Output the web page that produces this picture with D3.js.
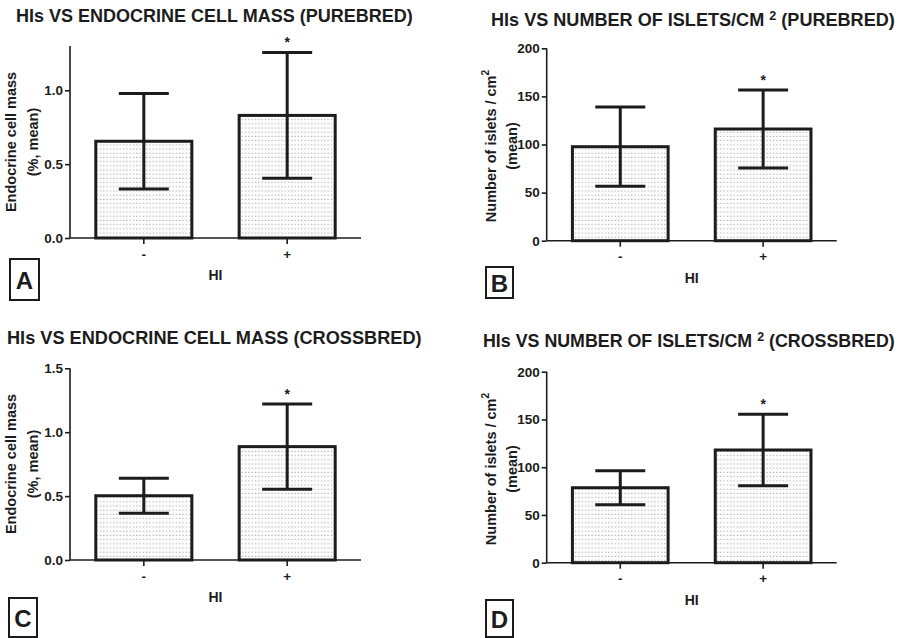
<!DOCTYPE html>
<html>
<head>
<meta charset="utf-8">
<script src="https://cdn.jsdelivr.net/npm/d3@7.9.0/dist/d3.min.js"></script>
<style>
  body { margin: 0; background: #fff; }
  svg { display: block; font-family: "Liberation Sans", Arial, sans-serif; font-weight: bold; }
</style>
</head>
<body>
<svg id="chart" width="904" height="638"></svg>
<script>
// categories on the x axis (HI absent / present)
const categories = ["-", "+"];

// A: endocrine cell mass, purebred
const massPureMean = [0.655, 0.83];
const massPureErr = [0.323, 0.426];
// B: islets per cm2, purebred
const isletsPureMean = [97.7, 116.1];
const isletsPureErr = [41.2, 40.6];
// C: endocrine cell mass, crossbred
const massCrossMean = [0.503, 0.887];
const massCrossErr = [0.137, 0.333];
// D: islets per cm2, crossbred
const isletsCrossMean = [78.5, 118];
const isletsCrossErr = [17.8, 37.4];

const massTicks = [0, 0.5, 1.0];
const massTicksC = [0, 0.5, 1.0, 1.5];
const isletTicks = [0, 50, 100, 150, 200];

const svg = d3.select("#chart");
const ink = "#1c1c1c";

// dotted fill used inside every bar
const defs = svg.append("defs");
const pat = defs.append("pattern")
    .attr("id", "dots")
    .attr("patternUnits", "userSpaceOnUse")
    .attr("width", 3.3)
    .attr("height", 4.2);
pat.append("rect").attr("width", 3.3).attr("height", 4.2).attr("fill", "#fcfcfc");
pat.append("rect").attr("x", 1).attr("y", 1.5).attr("width", 1).attr("height", 1).attr("fill", "#9a9a9a");

// layout of each panel
const panels = [
    {
        title: ["HIs VS ENDOCRINE CELL MASS (PUREBRED)"], titleX: 16, titleY: 21.5, titleW: 397,
        mean: massPureMean, err: massPureErr, domain: [0, 1.3], ticks: massTicks, fmt: d3.format(".1f"),
        x0: 70, x1: 361, y0: 238, yTop: 46,
        ylab: ["Endocrine cell mass", "(%, mean)"], ylabX: [11, 33], ylabY: 142, ylabSup: false,
        hiY: 280, box: { x: 10, y: 259, w: 29, h: 41, t: "A" }
    },
    {
        title: ["HIs VS NUMBER OF ISLETS/CM ", "2", " (PUREBRED)"], titleX: 491, titleY: 26, titleW: 404,
        mean: isletsPureMean, err: isletsPureErr, domain: [0, 200], ticks: isletTicks, fmt: d3.format("d"),
        x0: 546.7, x1: 836.7, y0: 240.7, yTop: 48.3,
        ylab: ["Number of islets / cm", "(mean)"], ylabX: [491, 512], ylabY: 146, ylabSup: true,
        hiY: 283, box: { x: 486, y: 267, w: 27, h: 31, t: "B" }
    },
    {
        title: ["HIs VS ENDOCRINE CELL MASS (CROSSBRED)"], titleX: 7, titleY: 344, titleW: 415,
        mean: massCrossMean, err: massCrossErr, domain: [0, 1.5], ticks: massTicksC, fmt: d3.format(".1f"),
        x0: 70, x1: 361, y0: 560, yTop: 368.3,
        ylab: ["Endocrine cell mass", "(%, mean)"], ylabX: [11, 33], ylabY: 464, ylabSup: false,
        hiY: 602, box: { x: 9, y: 598, w: 28, h: 39, t: "C" }
    },
    {
        title: ["HIs VS NUMBER OF ISLETS/CM ", "2", " (CROSSBRED)"], titleX: 483, titleY: 347, titleW: 412,
        mean: isletsCrossMean, err: isletsCrossErr, domain: [0, 200], ticks: isletTicks, fmt: d3.format("d"),
        x0: 546.7, x1: 836.7, y0: 562.7, yTop: 371.7,
        ylab: ["Number of islets / cm", "(mean)"], ylabX: [491, 512], ylabY: 469, ylabSup: true,
        hiY: 605, box: { x: 486, y: 600, w: 27, h: 37, t: "D" }
    }
];

function fitWidth(textSel, target) {
    const w = textSel.node().getComputedTextLength();
    const fs = parseFloat(textSel.attr("font-size"));
    textSel.attr("font-size", fs * target / w);
}

function drawPanel(p) {
    const g = svg.append("g");

    const x = d3.scaleBand().domain(categories).range([p.x0, p.x1])
        .paddingInner(0.33).paddingOuter(0.18);
    const y = d3.scaleLinear().domain(p.domain).range([p.y0, p.yTop]);

    // title
    const t = g.append("text").attr("x", p.titleX).attr("y", p.titleY)
        .attr("font-size", 15).attr("fill", ink);
    p.title.forEach((s, i) => {
        const sp = t.append("tspan").text(s);
        if (p.title.length === 3 && i === 1) sp.attr("font-size", "0.7em").attr("dy", -6);
        if (p.title.length === 3 && i === 2) sp.attr("dy", 6);
    });
    fitWidth(t, p.titleW);

    // bars
    const data = categories.map((c, i) => ({ c, m: p.mean[i], e: p.err[i] }));
    g.selectAll("rect.bar").data(data).join("rect")
        .attr("class", "bar")
        .attr("x", d => x(d.c))
        .attr("width", x.bandwidth())
        .attr("y", d => y(d.m))
        .attr("height", d => y(0) - y(d.m))
        .attr("fill", "url(#dots)")
        .attr("stroke", ink)
        .attr("stroke-width", 3);

    // error bars
    const cx = d => x(d.c) + x.bandwidth() / 2;
    const eb = g.selectAll("g.err").data(data).join("g").attr("class", "err")
        .attr("stroke", ink).attr("stroke-width", 3);
    eb.append("line").attr("x1", cx).attr("x2", cx)
        .attr("y1", d => y(d.m - d.e)).attr("y2", d => y(d.m + d.e));
    [1, -1].forEach(sgn => {
        eb.append("line")
            .attr("x1", d => cx(d) - 25).attr("x2", d => cx(d) + 25)
            .attr("y1", d => y(d.m + sgn * d.e)).attr("y2", d => y(d.m + sgn * d.e));
    });

    // significance star over the HI+ bar
    const hiPlus = data[1];
    g.append("text").attr("x", cx(hiPlus)).attr("y", y(hiPlus.m + hiPlus.e) - 5)
        .attr("text-anchor", "middle").attr("font-size", 14).attr("fill", ink).text("*");

    // axes
    const yAxis = d3.axisLeft(y).tickValues(p.ticks).tickFormat(p.fmt).tickSize(5).tickPadding(2);
    const ya = g.append("g").attr("transform", `translate(${p.x0},0)`).call(yAxis);
    const xAxis = d3.axisBottom(x).tickSize(6).tickPadding(5);
    const xa = g.append("g").attr("transform", `translate(0,${p.y0})`).call(xAxis);
    [ya, xa].forEach(a => {
        a.select(".domain").attr("stroke", ink).attr("stroke-width", 1.6);
        a.selectAll(".tick line").attr("stroke", ink).attr("stroke-width", 1.6);
        a.selectAll(".tick text").attr("fill", ink).attr("font-size", 13.5)
            .attr("font-family", "Liberation Sans, Arial, sans-serif").attr("font-weight", "bold");
    });
    // GraphPad style: no outer ticks on the axis ends
    ya.select(".domain").attr("d", `M0,${p.y0}V${p.yTop}`);
    xa.select(".domain").attr("d", `M${p.x0},0H${p.x1}`);

    // axis titles
    g.append("text").attr("x", (p.x0 + p.x1) / 2).attr("y", p.hiY)
        .attr("text-anchor", "middle").attr("font-size", 14).attr("fill", ink).text("HI");

    p.ylab.forEach((s, i) => {
        const lt = g.append("text")
            .attr("transform", `translate(${p.ylabX[i]},${p.ylabY}) rotate(-90)`)
            .attr("text-anchor", "middle").attr("dominant-baseline", "central")
            .attr("font-size", 14.5).attr("fill", ink);
        lt.append("tspan").text(s);
        if (i === 0 && p.ylabSup) {
            lt.append("tspan").attr("font-size", "0.7em").attr("dy", -6).text("2");
        }
    });

    // panel letter box
    g.append("rect").attr("x", p.box.x).attr("y", p.box.y)
        .attr("width", p.box.w).attr("height", p.box.h)
        .attr("fill", "none").attr("stroke", ink).attr("stroke-width", 2);
    g.append("text").attr("x", p.box.x + p.box.w / 2).attr("y", p.box.y + p.box.h / 2 + 1)
        .attr("text-anchor", "middle").attr("dominant-baseline", "central")
        .attr("font-size", 24).attr("fill", ink).text(p.box.t);
}

panels.forEach(drawPanel);
</script>
</body>
</html>
